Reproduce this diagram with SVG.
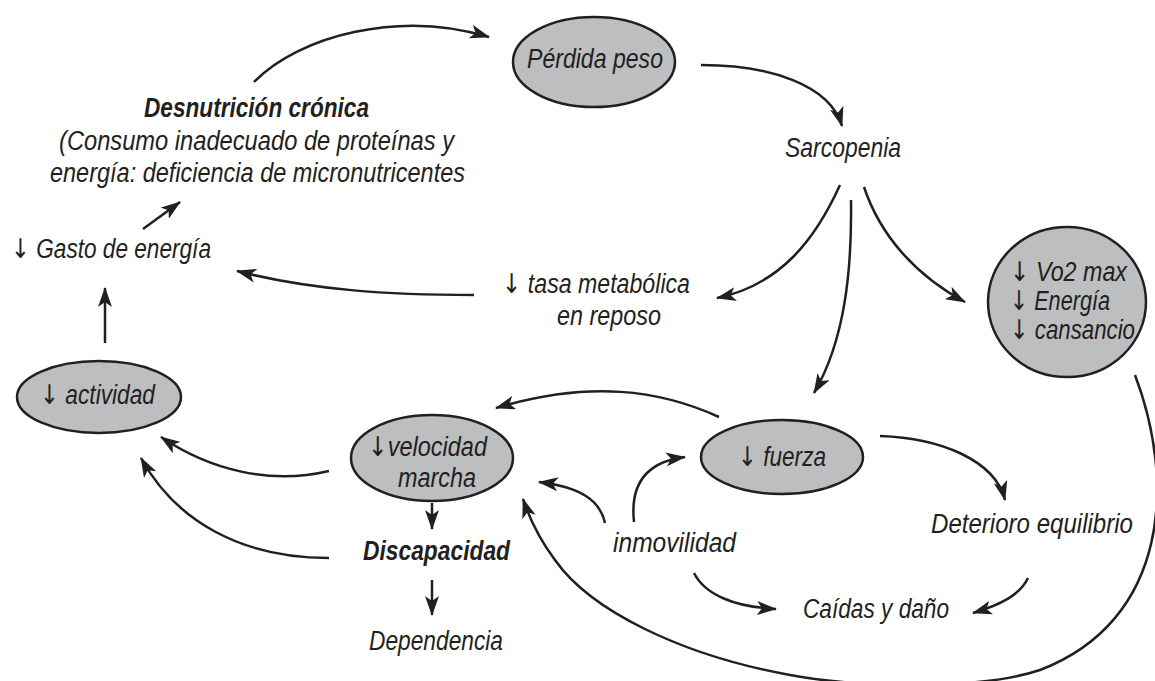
<svg xmlns="http://www.w3.org/2000/svg" width="1155" height="681" viewBox="0 0 1155 681">
<defs>
<marker id="ah" markerUnits="userSpaceOnUse" viewBox="0 0 20 14" refX="19" refY="7" markerWidth="20" markerHeight="14" orient="auto">
<path d="M0,0 L20,7 L0,14 L5,7 Z" fill="#231f20"/>
</marker>
<style>
.t{font-family:"Liberation Sans Narrow","Liberation Sans",Arial,sans-serif;font-style:italic;font-size:27px;fill:#231f20}
.a{font-family:"DejaVu Sans",sans-serif;font-style:normal;font-weight:normal;fill:#231f20}
.b{font-weight:bold}
.n{fill:#bcbec0;stroke:#231f20;stroke-width:2.5}
.c{fill:none;stroke:#231f20;stroke-width:2.5;marker-end:url(#ah)}
</style>
</defs>
<rect width="1155" height="681" fill="#ffffff"/>
<g id="connectors">
<path class="c" d="M254,82 C300,35 400,10 489,37"/>
<path class="c" d="M701,65 C770,65 830,85 842,126"/>
<path class="c" d="M840,185 C815,240 780,285 717,298"/>
<path class="c" d="M851,200 C852,270 845,340 814,393"/>
<path class="c" d="M864,187 C880,235 915,275 965,302"/>
<path class="c" d="M474,295 C390,295 310,290 237,271"/>
<path class="c" d="M105,343 L105,288"/>
<path class="c" d="M143,229 L180,202"/>
<path class="c" d="M719,417 C660,390 590,380 496,408"/>
<path class="c" d="M880,436 C940,438 995,460 1005,500"/>
<path class="c" d="M1028,578 C1020,595 1000,605 973,613"/>
<path class="c" d="M634,522 C630,485 645,462 685,457"/>
<path class="c" d="M605,523 C600,500 580,487 539,482"/>
<path class="c" d="M694,573 C705,595 735,607 776,609"/>
<path class="c" d="M432,503 L432,529"/>
<path class="c" d="M432,580 L432,615"/>
<path class="c" d="M329,471 C270,485 210,470 161,437"/>
<path class="c" d="M329,558 C240,558 175,520 141,458"/>
<path class="c" d="M1135,375 C1175,480 1170,620 1040,670 C980,690 860,688 790,675 C680,655 590,610 555,560 C540,540 530,520 523,499"/>
</g>
<g id="perdida-peso">
<ellipse class="n" cx="594" cy="62" rx="81" ry="45"/>
<text class="t" x="527" y="68" textLength="136" lengthAdjust="spacingAndGlyphs">Pérdida peso</text>
</g>
<g id="desnutricion">
<text class="t b" x="144" y="117" textLength="225" lengthAdjust="spacingAndGlyphs">Desnutrición crónica</text>
<text class="t" x="59" y="150" textLength="395" lengthAdjust="spacingAndGlyphs">(Consumo inadecuado de proteínas y</text>
<text class="t" x="50" y="182" textLength="415" lengthAdjust="spacingAndGlyphs">energía: deficiencia de micronutricentes</text>
</g>
<g id="gasto-energia">
<text class="t" x="11" y="258" textLength="200" lengthAdjust="spacingAndGlyphs"><tspan class="a">↓</tspan> Gasto de energía</text>
</g>
<g id="sarcopenia">
<text class="t" x="785" y="157" textLength="116" lengthAdjust="spacingAndGlyphs">Sarcopenia</text>
</g>
<g id="tasa-metabolica">
<text class="t" x="502" y="293" textLength="188" lengthAdjust="spacingAndGlyphs"><tspan class="a">↓</tspan> tasa metabólica</text>
<text class="t" x="557" y="325" textLength="104" lengthAdjust="spacingAndGlyphs">en reposo</text>
</g>
<g id="vo2">
<ellipse class="n" cx="1067" cy="302" rx="79" ry="75"/>
<text class="t" x="1010" y="281" textLength="117" lengthAdjust="spacingAndGlyphs"><tspan class="a">↓</tspan> Vo2 max</text>
<text class="t" x="1010" y="310" textLength="100" lengthAdjust="spacingAndGlyphs"><tspan class="a">↓</tspan> Energía</text>
<text class="t" x="1010" y="339" textLength="125" lengthAdjust="spacingAndGlyphs"><tspan class="a">↓</tspan> cansancio</text>
</g>
<g id="actividad">
<ellipse class="n" cx="99" cy="397" rx="82" ry="36"/>
<text class="t" x="40" y="404" textLength="115" lengthAdjust="spacingAndGlyphs"><tspan class="a">↓</tspan> actividad</text>
</g>
<g id="velocidad-marcha">
<ellipse class="n" cx="432" cy="458" rx="81" ry="43"/>
<text class="t" x="368" y="456" textLength="119" lengthAdjust="spacingAndGlyphs"><tspan class="a">↓</tspan>velocidad</text>
<text class="t" x="398" y="487" textLength="78" lengthAdjust="spacingAndGlyphs">marcha</text>
</g>
<g id="fuerza">
<ellipse class="n" cx="782" cy="457" rx="81" ry="37"/>
<text class="t" x="738" y="466" textLength="88" lengthAdjust="spacingAndGlyphs"><tspan class="a">↓</tspan> fuerza</text>
</g>
<g id="deterioro-equilibrio">
<text class="t" x="931" y="533" textLength="202" lengthAdjust="spacingAndGlyphs">Deterioro equilibrio</text>
</g>
<g id="inmovilidad">
<text class="t" x="613" y="552" textLength="123" lengthAdjust="spacingAndGlyphs">inmovilidad</text>
</g>
<g id="discapacidad">
<text class="t b" x="363" y="560" textLength="147" lengthAdjust="spacingAndGlyphs">Discapacidad</text>
</g>
<g id="caidas">
<text class="t" x="803" y="618" textLength="146" lengthAdjust="spacingAndGlyphs">Caídas y daño</text>
</g>
<g id="dependencia">
<text class="t" x="369" y="650" textLength="134" lengthAdjust="spacingAndGlyphs">Dependencia</text>
</g>
</svg>
